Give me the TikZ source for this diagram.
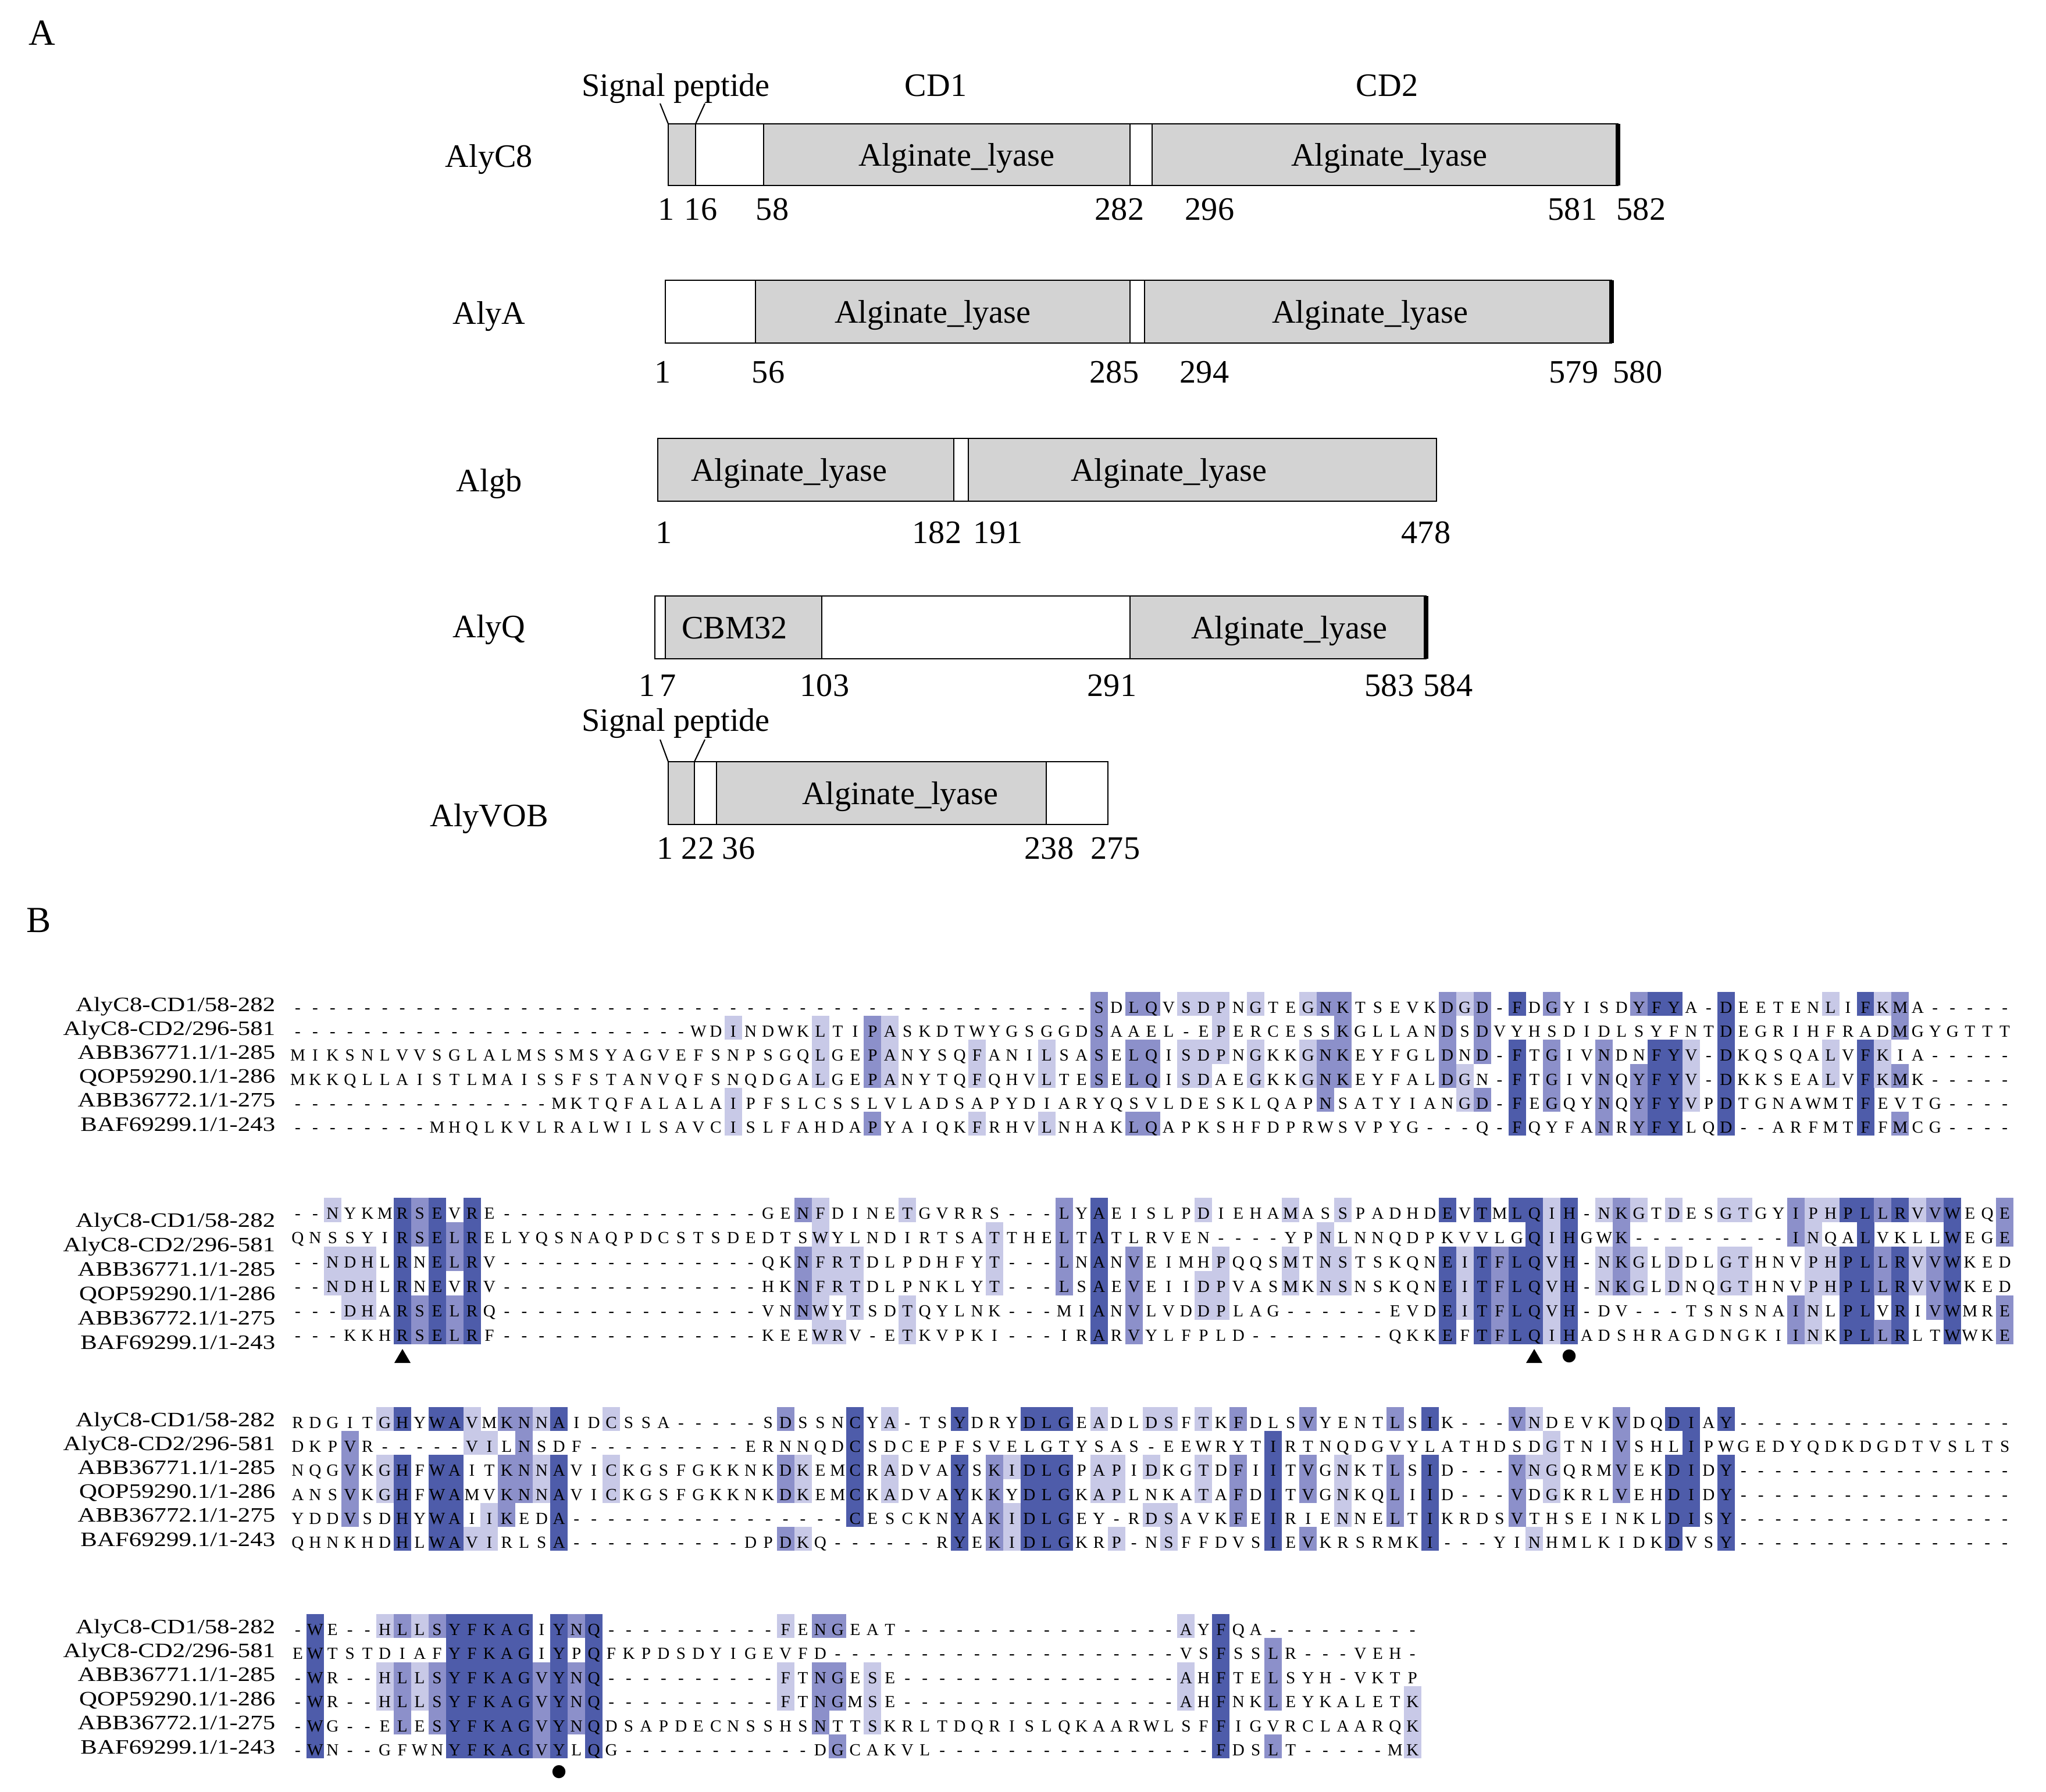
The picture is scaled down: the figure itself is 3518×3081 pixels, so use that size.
\documentclass[tikz,border=0pt]{standalone}
\usepackage{fontspec}
\setmainfont{Liberation Serif}
\usepackage{graphicx}
\definecolor{domgray}{RGB}{211,211,211}
\definecolor{pidA}{RGB}{200,201,231}
\definecolor{pidB}{RGB}{140,144,202}
\definecolor{pidC}{RGB}{78,92,170}
\tikzset{
  bar/.style={draw=black,line width=0.75pt,fill=white},
  dom/.style={draw=black,line width=0.75pt,fill=domgray},
  endmark/.style={line width=2.2pt},
  sigline/.style={line width=0.6pt},
  ptxt/.style={font=\fontsize{16}{19}\selectfont,inner sep=0pt,anchor=base},
  head/.style={font=\fontsize{18}{21}\selectfont,inner sep=0pt,anchor=base},
  res/.style={font=\fontsize{8.3}{9}\selectfont,inner sep=0pt,anchor=base},
  seqlab/.style={font=\fontsize{10}{11}\selectfont,inner sep=0pt,anchor=base east},
  aln1/.style={fill=pidA},
  aln2/.style={fill=pidB},
  aln3/.style={fill=pidC}
}
\newcommand\alncell[4]{\fill[aln#4] (#1-15,#2) rectangle (#1+15,#3);}
\newcommand\alnres[4]{\node[res] (#1) at (#2,#3) {#4};}
\newcommand\pnum[4]{\node[ptxt] (#1) at (#2,#3) {#4};}
\newcommand\seqlabels[3]{%
  \node[seqlab] (#1l1) at (474,{#2+6}) {\scalebox{1.22}[1]{AlyC8-CD1/58-282}};
  \node[seqlab] (#1l2) at (474,{#2+#3+6}) {\scalebox{1.22}[1]{AlyC8-CD2/296-581}};
  \node[seqlab] (#1l3) at (474,{#2+2*#3+6}) {\scalebox{1.22}[1]{ABB36771.1/1-285}};
  \node[seqlab] (#1l4) at (474,{#2+3*#3+6}) {\scalebox{1.22}[1]{QOP59290.1/1-286}};
  \node[seqlab] (#1l5) at (474,{#2+4*#3+6}) {\scalebox{1.22}[1]{ABB36772.1/1-275}};
  \node[seqlab] (#1l6) at (474,{#2+5*#3+6}) {\scalebox{1.22}[1]{BAF69299.1/1-243}};
}
\ExplSyntaxOn
\int_new:N \l_aln_col_int
\int_new:N \l_aln_len_int
\int_new:N \l_aln_max_int
\int_new:N \l_aln_cnt_int
\int_new:N \l_aln_lvl_int
\tl_new:N \l_aln_a_tl
\tl_new:N \l_aln_b_tl
\tl_new:N \l_aln_id_tl
\tl_const:Nn \c_aln_dash_tl { - }
\int_step_inline:nn { 6 } { \tl_new:c { l_aln_r_#1_tl } }
\fp_new:N \l_aln_y_fp
\fp_new:N \l_aln_p_fp
\cs_new:Npn \Gp #1 { \prg_replicate:nn {#1} { - } }
\cs_new:Npn \aln_ch:nn #1#2 { \tl_item:cn { l_aln_r_#1_tl } {#2} }
\cs_new_protected:Npn \aln_count:n #1
  {
    \int_zero:N \l_aln_cnt_int
    \tl_set:Nx \l_aln_a_tl { \aln_ch:nn {#1} { \l_aln_col_int } }
    \tl_if_eq:NNF \l_aln_a_tl \c_aln_dash_tl
      {
        \int_step_inline:nn { 6 }
          {
            \tl_set:Nx \l_aln_b_tl { \aln_ch:nn {##1} { \l_aln_col_int } }
            \tl_if_eq:NNT \l_aln_a_tl \l_aln_b_tl { \int_incr:N \l_aln_cnt_int }
          }
      }
  }
\cs_new_protected:Npn \aln_max:n #1
  {
    \aln_count:n {#1}
    \int_compare:nNnT { \l_aln_cnt_int } > { \l_aln_max_int }
      { \int_set_eq:NN \l_aln_max_int \l_aln_cnt_int }
  }
\cs_new_protected:Npn \aln_shade:n #1
  {
    \aln_count:n {#1}
    \int_compare:nNnT { \l_aln_lvl_int } > { 0 }
      {
        \int_compare:nNnT { \l_aln_cnt_int } = { \l_aln_max_int }
          {
            \use:x
              {
                \exp_not:N \alncell
                  { \fp_eval:n { 512 + 29.95 * ( \int_use:N \l_aln_col_int - 1 ) } }
                  { \fp_eval:n { \l_aln_y_fp + \l_aln_p_fp * ( #1 - 1 ) - 27 } }
                  { \fp_eval:n { \l_aln_y_fp + \l_aln_p_fp * ( #1 ) - 27 } }
                  { \int_use:N \l_aln_lvl_int }
              }
          }
      }
  }
\cs_new_protected:Npn \aln_res:n #1
  {
    \use:x
      {
        \exp_not:N \alnres
          { \l_aln_id_tl r #1 c \int_use:N \l_aln_col_int }
          { \fp_eval:n { 512 + 29.95 * ( \int_use:N \l_aln_col_int - 1 ) } }
          { \fp_eval:n { \l_aln_y_fp + \l_aln_p_fp * ( #1 - 1 ) + 9.5 } }
          { \aln_ch:nn {#1} { \l_aln_col_int } }
      }
  }
\cs_new_protected:Npn \aln_column_shade:n #1
  {
    \int_set:Nn \l_aln_col_int {#1}
    \int_zero:N \l_aln_max_int
    \int_step_function:nN { 6 } \aln_max:n
    \int_set:Nn \l_aln_lvl_int
      {
        \int_compare:nNnTF { \l_aln_max_int } > { 4 } { 3 }
          {
            \int_compare:nNnTF { \l_aln_max_int } = { 4 } { 2 }
              { \int_compare:nNnTF { \l_aln_max_int } = { 3 } { 1 } { 0 } }
          }
      }
    \int_step_function:nN { 6 } \aln_shade:n
  }
\cs_new_protected:Npn \aln_column_text:n #1
  {
    \int_set:Nn \l_aln_col_int {#1}
    \int_step_function:nN { 6 } \aln_res:n
  }
\NewDocumentCommand \AlnBlock { m m m m m m m m m }
  {
    \tl_set:Nn \l_aln_id_tl {#1}
    \fp_set:Nn \l_aln_y_fp {#2}
    \fp_set:Nn \l_aln_p_fp {#3}
    \tl_set:cx { l_aln_r_1_tl } {#4}
    \tl_set:cx { l_aln_r_2_tl } {#5}
    \tl_set:cx { l_aln_r_3_tl } {#6}
    \tl_set:cx { l_aln_r_4_tl } {#7}
    \tl_set:cx { l_aln_r_5_tl } {#8}
    \tl_set:cx { l_aln_r_6_tl } {#9}
    \int_set:Nn \l_aln_len_int { \tl_count:c { l_aln_r_1_tl } }
    \int_step_function:nN { \l_aln_len_int } \aln_column_shade:n
    \int_step_function:nN { \l_aln_len_int } \aln_column_text:n
  }
\ExplSyntaxOff
\begin{document}
\begin{tikzpicture}[x=0.01cm,y=-0.01cm]
\useasboundingbox (0,0) rectangle (3518,3081);
\fill[white] (0,0) rectangle (3518,3081);

% ---------------- Part A ----------------
\node[head] (hA) at (72,77) {A};
\node[head] (hB) at (67,1603) {B};

% AlyC8
\node[ptxt] (nC8) at (841,287) {AlyC8};
\node[ptxt] (sigC8) at (1162,165) {Signal peptide};
\node[ptxt] (cd1) at (1609,165) {CD1};
\node[ptxt] (cd2) at (2385,165) {CD2};
\draw[bar] (1149,213) rectangle (2782,319);
\draw[dom] (1149,213) rectangle (1196,319);
\draw[dom] (1313,213) rectangle (1943,319);
\draw[dom] (1981,213) rectangle (2782,319);
\draw[endmark] (2782,213) -- (2782,319);
\coordinate (c8sa) at (1149,213);
\coordinate (c8sb) at (1196,213);
\coordinate (c8ta) at (1135,178);
\coordinate (c8tb) at (1212,178);
\draw[sigline] (c8ta) -- (c8sa);
\draw[sigline] (c8tb) -- (c8sb);
\node[ptxt] (c8d1) at (1645,285) {Alginate\_lyase};
\node[ptxt] (c8d2) at (2389,285) {Alginate\_lyase};
\pnum{c8n1}{1146}{378}{1}
\pnum{c8n2}{1205}{378}{16}
\pnum{c8n3}{1328}{378}{58}
\pnum{c8n4}{1925}{378}{282}
\pnum{c8n5}{2080}{378}{296}
\pnum{c8n6}{2704}{378}{581}
\pnum{c8n7}{2822}{378}{582}

% AlyA
\node[ptxt] (nA) at (841,557) {AlyA};
\draw[bar] (1144,482) rectangle (2771,590);
\draw[dom] (1299,482) rectangle (1943,590);
\draw[dom] (1968,482) rectangle (2771,590);
\draw[endmark] (2771,482) -- (2771,590);
\node[ptxt] (ad1) at (1604,555) {Alginate\_lyase};
\node[ptxt] (ad2) at (2356,555) {Alginate\_lyase};
\pnum{an1}{1140}{658}{1}
\pnum{an2}{1321}{658}{56}
\pnum{an3}{1916}{658}{285}
\pnum{an4}{2071}{658}{294}
\pnum{an5}{2706}{658}{579}
\pnum{an6}{2816}{658}{580}

% Algb
\node[ptxt] (nB) at (841,845) {Algb};
\draw[bar] (1131,754) rectangle (2470,862);
\draw[dom] (1131,754) rectangle (1640,862);
\draw[dom] (1665,754) rectangle (2470,862);
\node[ptxt] (bd1) at (1357,827) {Alginate\_lyase};
\node[ptxt] (bd2) at (2010,827) {Alginate\_lyase};
\pnum{bn1}{1142}{934}{1}
\pnum{bn2}{1611}{934}{182}
\pnum{bn3}{1716}{934}{191}
\pnum{bn4}{2452}{934}{478}

% AlyQ
\node[ptxt] (nQ) at (841,1096) {AlyQ};
\draw[bar] (1126,1025) rectangle (2452,1133);
\draw[dom] (1144,1025) rectangle (1413,1133);
\draw[dom] (1943,1025) rectangle (2452,1133);
\draw[endmark] (2452,1025) -- (2452,1133);
\node[ptxt] (qd1) at (1263,1098) {CBM32};
\node[ptxt] (qd2) at (2217,1098) {Alginate\_lyase};
\pnum{qn1}{1113}{1197}{1}
\pnum{qn2}{1149}{1197}{7}
\pnum{qn3}{1418}{1197}{103}
\pnum{qn4}{1912}{1197}{291}
\pnum{qn5}{2389}{1197}{583}
\pnum{qn6}{2490}{1197}{584}

% AlyVOB
\node[ptxt] (nV) at (841,1421) {AlyVOB};
\node[ptxt] (sigV) at (1162,1257) {Signal peptide};
\draw[bar] (1149,1310) rectangle (1905,1418);
\draw[dom] (1149,1310) rectangle (1194,1418);
\draw[dom] (1232,1310) rectangle (1799,1418);
\coordinate (vsa) at (1149,1310);
\coordinate (vsb) at (1194,1310);
\coordinate (vta) at (1135,1272);
\coordinate (vtb) at (1212,1272);
\draw[sigline] (vta) -- (vsa);
\draw[sigline] (vtb) -- (vsb);
\node[ptxt] (vd1) at (1548,1383) {Alginate\_lyase};
\pnum{vn1}{1144}{1477}{1}
\pnum{vn2}{1200}{1477}{22}
\pnum{vn3}{1270}{1477}{36}
\pnum{vn4}{1804}{1477}{238}
\pnum{vn5}{1918}{1477}{275}

% ---------------- Part B ----------------
\seqlabels{b1}{1733}{41.2}
\AlnBlock{b1}{1733}{41.2}
 {\Gp{46}SDLQVSDPNGTEGNKTSEVKDGD-FDGYISDYFYA-DEETENLIFKMA\Gp{5}}
 {\Gp{23}WDINDWKLTIPASKDTWYGSGGDSAAEL-EPERCESSKGLLANDSDVYHSDIDLSYFNTDEGRIHFRADMGYGTTT}
 {MIKSNLVVSGLALMSSMSYAGVEFSNPSGQLGEPANYSQFANILSASELQISDPNGKKGNKEYFGLDND-FTGIVNDNFYV-DKQSQALVFKIA\Gp{5}}
 {MKKQLLAISTLMAISSFSTANVQFSNQDGALGEPANYTQFQHVLTESELQISDAEGKKGNKEYFALDGN-FTGIVNQYFYV-DKKSEALVFKMK\Gp{5}}
 {\Gp{15}MKTQFALALAIPFSLCSSLVLADSAPYDIARYQSVLDESKLQAPNSATYIANGD-FEGQYNQYFYVPDTGNAWMTFEVTG\Gp{4}}
 {\Gp{8}MHQLKVLRALWILSAVCISLFAHDAPYAIQKFRHVLNHAKLQAPKSHFDPRWSVPYG---Q-FQYFANRYFYLQD--ARFMTFFMCG\Gp{4}}

\seqlabels{b2}{2104.5}{42}
\AlnBlock{b2}{2087}{42}
 {--NYKMRSEVRE\Gp{15}GENFDINETGVRRS---LYAEISLPDIEHAMASSPADHDEVTMLQIH-NKGTDESGTGYIPHPLLRVVWEQE}
 {QNSSYIRSELRELYQSNAQPDCSTSDEDTSWYLNDIRTSATTHELTATLRVEN----YPNLNNQDPKVVLGQIHGWK\Gp{9}INQALVKLLWEGE}
 {--NDHLRNELRV\Gp{15}QKNFRTDLPDHFYT---LNANVEIMHPQQSMTNSTSKQNEITFLQVH-NKGLDDLGTHNVPHPLLRVVWKED}
 {--NDHLRNEVRV\Gp{15}HKNFRTDLPNKLYT---LSAEVEIIDPVASMKNSNSKQNEITFLQVH-NKGLDNQGTHNVPHPLLRVVWKED}
 {---DHARSELRQ\Gp{15}VNNWYTSDTQYLNK---MIANVLVDDPLAG\Gp{6}EVDEITFLQVH-DV---TSNSNAINLPLVRIVWMRE}
 {---KKHRSELRF\Gp{15}KEEWRV-ETKVPKI---IRARVYLFPLD\Gp{8}QKKEFTFLQIHADSHRAGDNGKIINKPLLRLTWWKE}
\fill (692,2320) -- (706,2344) -- (678,2344) -- cycle;
\fill (2638,2320) -- (2652,2344) -- (2624,2344) -- cycle;
\fill (2698,2332) circle[radius=3.2pt];

\seqlabels{b3}{2447}{41.2}
\AlnBlock{b3}{2447}{41.2}
 {RDGITGHYWAVMKNNAIDCSSA\Gp{5}SDSSNCYA-TSYDRYDLGEADLDSFTKFDLSVYENTLSIK---VNDEVKVDQDIAY\Gp{16}}
 {DKPVR\Gp{5}VILNSDF\Gp{9}ERNNQDCSDCEPFSVELGTYSAS-EEWRYTIRTNQDGVYLATHDSDGTNIVSHLIPWGEDYQDKDGDTVSLTS}
 {NQGVKGHFWAITKNNAVICKGSFGKKNKDKEMCRADVAYSKIDLGPAPIDKGTDFIITVGNKTLSID---VNGQRMVEKDIDY\Gp{16}}
 {ANSVKGHFWAMVKNNAVICKGSFGKKNKDKEMCKADVAYKKYDLGKAPLNKATAFDITVGNKQLIID---VDGKRLVEHDIDY\Gp{16}}
 {YDDVSDHYWAIIKEDA\Gp{16}CESCKNYAKIDLGEY-RDSAVKFEIRIENNELTIKRDSVTHSEINKLDISY\Gp{16}}
 {QHNKHDHLWAVIRLSA\Gp{10}DPDKQ\Gp{6}RYEKIDLGKRP-NSFFDVSIEVKRSRMKI---YINHMLKIDKDVSY\Gp{16}}

\seqlabels{b4}{2803}{41.4}
\AlnBlock{b4}{2803}{41.4}
 {-WE--HLLSYFKAGIYNQ\Gp{10}FENGEAT\Gp{16}AYFQA\Gp{9}}
 {EWTSTDIAFYFKAGIYPQFKPDSDYIGEVFD\Gp{20}VSFSSLR---VEH-}
 {-WR--HLLSYFKAGVYNQ\Gp{10}FTNGESE\Gp{16}AHFTELSYH-VKTP}
 {-WR--HLLSYFKAGVYNQ\Gp{10}FTNGMSE\Gp{16}AHFNKLEYKALETK}
 {-WG--ELESYFKAGVYNQDSAPDECNSSHSNTTSKRLTDQRISLQKAARWLSFFIGVRCLAARQK}
 {-WN--GFWNYFKAGVYLQG\Gp{11}DGCAKVL\Gp{16}FDSLT\Gp{5}MK}
\fill (961,3047) circle[radius=3.2pt];
\end{tikzpicture}
\end{document}
